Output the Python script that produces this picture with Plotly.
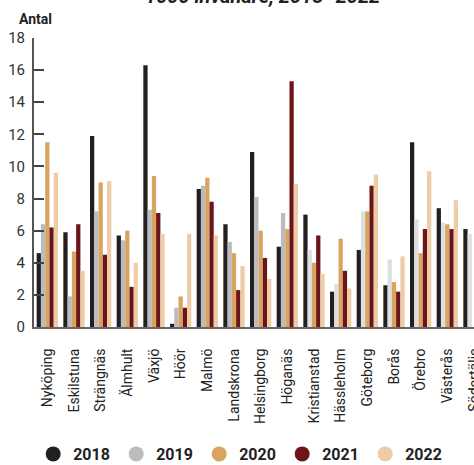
import plotly.graph_objects as go

cities = ["Nyköping", "Eskilstuna", "Strängnäs", "Älmhult", "Växjö", "Höör", "Malmö",
          "Landskrona", "Helsingborg", "Höganäs", "Kristianstad", "Hässleholm", "Göteborg",
          "Borås", "Örebro", "Västerås", "Södertälje"]
years = ["2018", "2019", "2020", "2021", "2022"]

v2018 = [4.6, 5.9, 11.9, 5.7, 16.3, 0.2, 8.6, 6.4, 10.9, 5.0, 7.0, 2.2, 4.8, 2.6, 11.5, 7.4, 6.1]
v2019 = [6.4, 1.9, 7.2, 5.4, 7.3, 1.2, 8.8, 5.3, 8.1, 7.1, 4.8, 2.7, 7.2, 4.2, 6.7, 6.5, 5.8]
v2020 = [11.5, 4.7, 9.0, 6.0, 9.4, 1.9, 9.3, 4.6, 6.0, 6.1, 4.0, 5.5, 7.2, 2.8, 4.6, 6.4, None]
v2021 = [6.2, 6.4, 4.5, 2.5, 7.1, 1.2, 7.8, 2.3, 4.3, 15.3, 5.7, 3.5, 8.8, 2.2, 6.1, 6.1, None]
v2022 = [9.6, 3.5, 9.1, 4.0, 5.8, 5.8, 5.7, 3.8, 3.0, 8.9, 3.3, 2.4, 9.5, 4.4, 9.7, 7.9, None]

series = [v2018, v2019, v2020, v2021, v2022]
colors = ["#221f20", "#bcbcbe", "#d9a461", "#6b1519", "#eecca6"]
light2019 = "#dfdfdf"

fig = go.Figure()
for i, (yr, vals, col) in enumerate(zip(years, series, colors)):
    if yr == "2019":
        mc = [col if k < 10 else light2019 for k in range(len(cities))]
    else:
        mc = col
    fig.add_trace(go.Bar(x=cities, y=vals, name=yr, marker=dict(color=mc, line=dict(width=0)),
                         showlegend=False))
for yr, col in zip(years, colors):
    fig.add_trace(go.Scatter(x=[None], y=[None], mode="markers", name=yr,
                             marker=dict(color=col, size=15, symbol="circle")))

fig.update_layout(
    width=474, height=465,
    margin=dict(l=34, r=0, t=38, b=138, autoexpand=False),
    plot_bgcolor="white", paper_bgcolor="white",
    font=dict(family="Roboto", color="#333"),
    barmode="group", bargap=0.2, bargroupgap=0,
    showlegend=True,
    legend=dict(orientation="h", xref="container", yref="container", x=0.07, y=11 / 465,
                xanchor="left", yanchor="middle",
                font=dict(size=16, color="#222", family="Roboto", weight="bold"),
                entrywidth=38, entrywidthmode="pixels", itemwidth=30,
                traceorder="normal"),
    xaxis=dict(type="category", range=[-0.5, 16.0], showgrid=False, tickangle=-90,
               tickfont=dict(size=14, color="#222"), ticks="", ticklabelstandoff=14,
               showline=True, linecolor="#666", linewidth=2, automargin=False),
    yaxis=dict(range=[0, 18], dtick=2, showgrid=False, zeroline=False, ticks="inside",
               ticklen=10, tickwidth=1.5, tickcolor="#444", showline=True, linecolor="#555",
               linewidth=2, tickfont=dict(size=15, color="#333"), ticklabelstandoff=4,
               automargin=False),
    annotations=[
        dict(text="<b>Antal</b>", xref="paper", yref="paper", x=(17 - 34) / 440, y=(327 - 19) / 289,
             xanchor="left", yanchor="middle", showarrow=False,
             font=dict(size=14, color="#222")),
        dict(text="<b><i>1000 invånare, 2018–2022</i></b>", xref="paper", yref="paper",
             x=(262 - 34) / 440, y=(327 - 10) / 289, xanchor="center", yanchor="bottom",
             showarrow=False, font=dict(size=20, color="#222")),
    ],
)

fig.write_html("out.html")
